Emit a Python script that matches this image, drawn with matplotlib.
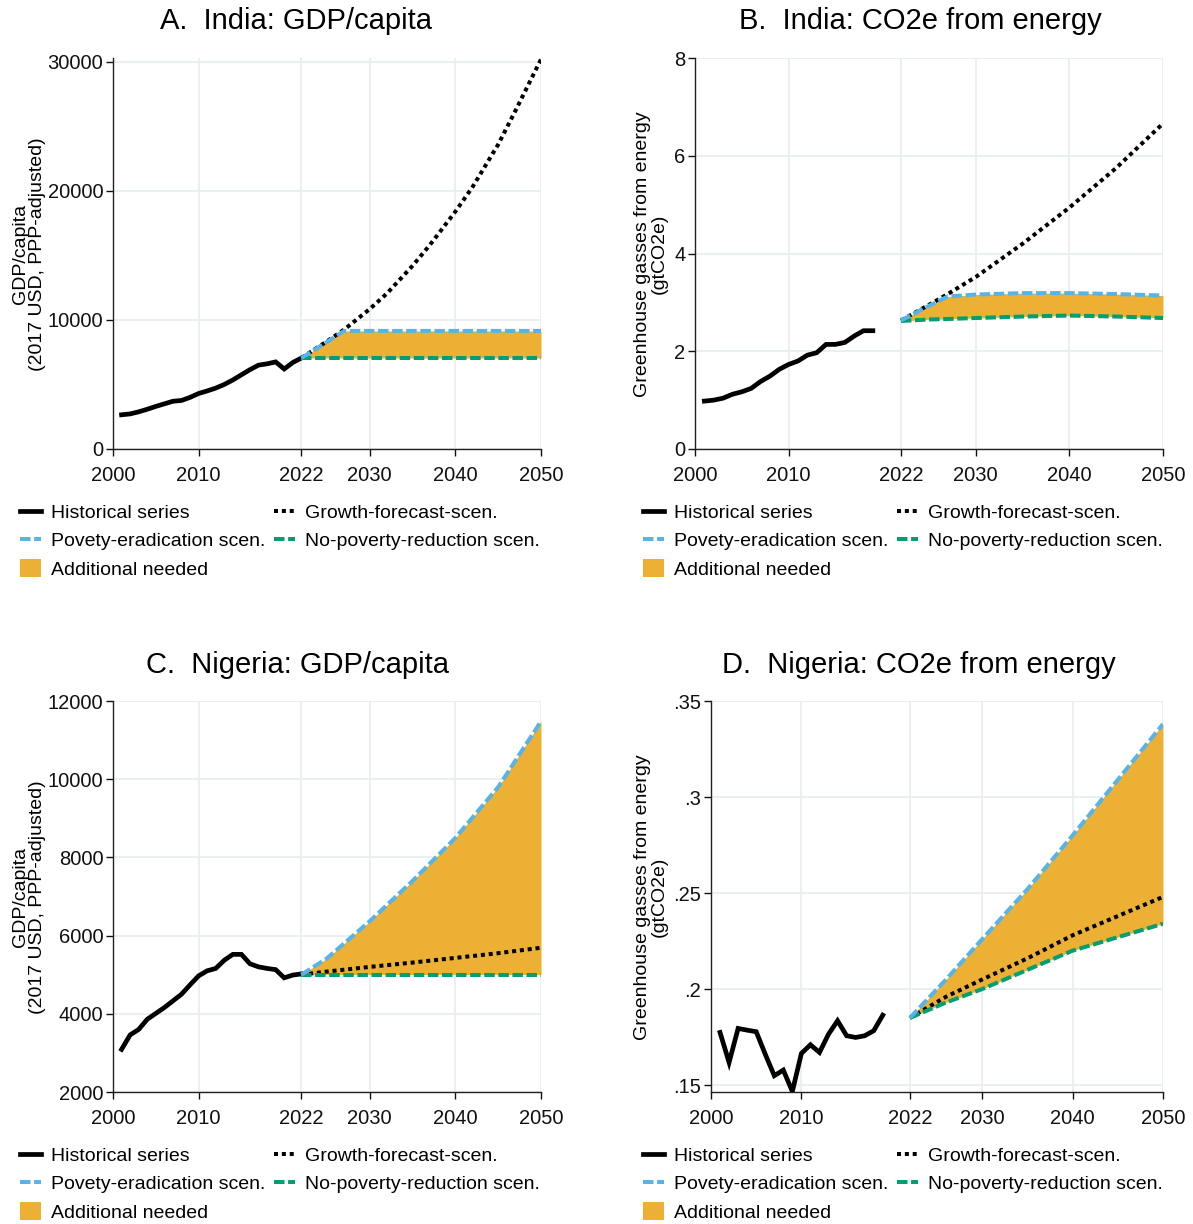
import matplotlib
matplotlib.use("Agg")
import matplotlib.pyplot as plt
from matplotlib.lines import Line2D
from matplotlib.patches import Patch

plt.rcParams['font.family'] = ['Liberation Sans', 'DejaVu Sans']

# colours
hist_col = 'black'
pov_col = '#56B4E9'
nopov_col = '#009E73'
fill_col = '#ECB134'
grid_col = '#E8EFF1'

# ---- India GDP/capita ----
india_hist_years = list(range(2001, 2023))
india_gdp_hist = [2650, 2720, 2880, 3080, 3300, 3500, 3700, 3760, 4000, 4300, 4500,
                  4720, 5000, 5350, 5750, 6150, 6500, 6600, 6750, 6200, 6700, 7050]
india_gdp_years = [2022, 2025, 2027, 2030, 2032, 2035, 2037, 2040, 2042, 2045, 2047, 2050]
india_gdp_pov = [7050, 8300, 9150, 9150, 9150, 9150, 9150, 9150, 9150, 9150, 9150, 9150]
india_gdp_nopov = [7050] * 12
india_gdp_growth = [7050, 8350, 9250, 10850, 12050, 14200, 15800, 18400, 20300, 23600, 26200, 30200]

# ---- India CO2e ----
india_co2_hist_years = list(range(2001, 2020))
india_co2_hist = [0.98, 1.00, 1.04, 1.12, 1.17, 1.24, 1.38, 1.49, 1.63, 1.73,
                  1.80, 1.92, 1.97, 2.14, 2.14, 2.18, 2.31, 2.42, 2.42]
india_co2_years = [2022, 2025, 2027, 2030, 2035, 2040, 2045, 2050]
india_co2_pov = [2.63, 2.93, 3.12, 3.16, 3.19, 3.19, 3.17, 3.14]
india_co2_nopov = [2.62, 2.65, 2.66, 2.68, 2.71, 2.73, 2.71, 2.68]
india_co2_growth = [2.63, 2.95, 3.17, 3.52, 4.20, 4.94, 5.75, 6.66]

# ---- Nigeria GDP/capita ----
nigeria_hist_years = list(range(2001, 2023))
nigeria_gdp_hist = [3090, 3460, 3600, 3860, 4010, 4160, 4330, 4500, 4740, 4970, 5100,
                    5160, 5370, 5520, 5520, 5280, 5200, 5160, 5130, 4920, 4990, 5020]
nigeria_gdp_years = [2022, 2025, 2030, 2035, 2040, 2045, 2050]
nigeria_gdp_pov = [5000, 5420, 6370, 7400, 8500, 9800, 11480]
nigeria_gdp_nopov = [5000] * 7
nigeria_gdp_growth = [5000, 5080, 5200, 5310, 5430, 5550, 5690]

# ---- Nigeria CO2e ----
nigeria_co2_hist_years = list(range(2001, 2020))
nigeria_co2_hist = [0.1774, 0.1618, 0.1795, 0.1786, 0.1778, 0.1661, 0.1549, 0.1578, 0.1467,
                    0.1665, 0.1710, 0.1670, 0.1765, 0.1835, 0.1757, 0.1748, 0.1757, 0.1783, 0.1864]
nigeria_co2_years = [2022, 2026, 2030, 2035, 2040, 2045, 2050]
nigeria_co2_pov = [0.185, 0.205, 0.226, 0.252, 0.280, 0.309, 0.338]
nigeria_co2_nopov = [0.185, 0.193, 0.200, 0.210, 0.220, 0.227, 0.234]
nigeria_co2_growth = [0.185, 0.196, 0.205, 0.216, 0.228, 0.238, 0.248]

x_ticks = [2000, 2010, 2022, 2030, 2040, 2050]

W, H = 1193, 1224
fig = plt.figure(figsize=(W / 100, H / 100), dpi=100)


def fx(px):
    return px / W


def fy(py):
    return 1 - py / H


dash = (2.6, 0.9)
dots = (1, 0.95)


def draw_panel(ax, hx, hy, px, pov, nopov, growth, ylim, yticks, ylabels=None):
    ax.fill_between(px, nopov, pov, color=fill_col, lw=0, zorder=2)
    ax.plot(hx, hy, color=hist_col, lw=3.4, solid_joinstyle='miter', zorder=3)
    ax.plot(px, growth, color='black', lw=2.9, dashes=dots, dash_capstyle='butt', zorder=4)
    ax.plot(px, nopov, color=nopov_col, lw=2.9, dashes=dash, dash_capstyle='butt', zorder=5)
    ax.plot(px, pov, color=pov_col, lw=2.9, dashes=dash, dash_capstyle='butt', zorder=5)
    ax.set_xlim(2000, 2050)
    ax.set_ylim(*ylim)
    ax.set_xticks(x_ticks)
    ax.set_yticks(yticks)
    if ylabels is not None:
        ax.set_yticklabels(ylabels)
    ax.grid(True, color=grid_col, lw=1.3, zorder=0)
    ax.set_axisbelow(True)
    for s in ['top', 'right']:
        ax.spines[s].set_visible(False)
    for s in ['left', 'bottom']:
        ax.spines[s].set_color('#222222')
        ax.spines[s].set_linewidth(1.0)
    ax.tick_params(direction='out', length=5, width=1, labelsize=14.5, colors='#111111')
    ax.tick_params(axis='x', pad=7)
    ax.tick_params(axis='y', pad=2)


def add_legend(ax, x0, ytop):
    handles = [
        Line2D([], [], color=hist_col, lw=3.4),
        Line2D([], [], color=pov_col, lw=2.9, dashes=dash, dash_capstyle='butt'),
        Patch(facecolor=fill_col, edgecolor='none'),
        Line2D([], [], color='black', lw=2.9, dashes=dots, dash_capstyle='butt'),
        Line2D([], [], color=nopov_col, lw=2.9, dashes=dash, dash_capstyle='butt'),
    ]
    labels = ['Historical series', 'Povety-eradication scen.', 'Additional needed',
              'Growth-forecast-scen.', 'No-poverty-reduction scen.']
    ax.legend(handles, labels, ncol=2, loc='upper left',
              bbox_to_anchor=(fx(x0), fy(ytop)), bbox_transform=fig.transFigure,
              frameon=False, fontsize=14, handlelength=1.08, handleheight=1.0,
              handletextpad=0.5, columnspacing=0.46, labelspacing=0.45,
              borderpad=0, borderaxespad=0)


# panel positions in pixels
axA = fig.add_axes([fx(113), fy(449), fx(541 - 113), (449 - 58) / H])
axB = fig.add_axes([fx(695), fy(449), fx(1163 - 695), (449 - 58) / H])
axC = fig.add_axes([fx(113), fy(1092), fx(541 - 113), (1092 - 701) / H])
axD = fig.add_axes([fx(711), fy(1092), fx(1163 - 711), (1092 - 701) / H])

draw_panel(axA, india_hist_years, india_gdp_hist, india_gdp_years, india_gdp_pov,
           india_gdp_nopov, india_gdp_growth, (0, 30300), [0, 10000, 20000, 30000])
draw_panel(axB, india_co2_hist_years, india_co2_hist, india_co2_years, india_co2_pov,
           india_co2_nopov, india_co2_growth, (0, 8), [0, 2, 4, 6, 8])
draw_panel(axC, nigeria_hist_years, nigeria_gdp_hist, nigeria_gdp_years, nigeria_gdp_pov,
           nigeria_gdp_nopov, nigeria_gdp_growth, (2000, 12000),
           [2000, 4000, 6000, 8000, 10000, 12000])
draw_panel(axD, nigeria_co2_hist_years, nigeria_co2_hist, nigeria_co2_years, nigeria_co2_pov,
           nigeria_co2_nopov, nigeria_co2_growth, (0.1464, 0.35),
           [0.15, 0.2, 0.25, 0.3, 0.35], ['.15', '.2', '.25', '.3', '.35'])

# titles
fig.text(fx(296), fy(21), 'A.  India: GDP/capita', ha='center', va='center', fontsize=21)
fig.text(fx(920), fy(21), 'B.  India: CO2e from energy', ha='center', va='center', fontsize=21)
fig.text(fx(297), fy(665), 'C.  Nigeria: GDP/capita', ha='center', va='center', fontsize=21)
fig.text(fx(919), fy(665), 'D.  Nigeria: CO2e from energy', ha='center', va='center', fontsize=21)

# y axis titles
gdp_lab = 'GDP/capita\n(2017 USD, PPP-adjusted)'
co2_lab = 'Greenhouse gasses from energy\n(gtCO2e)'
fig.text(fx(29), fy(254), gdp_lab, rotation=90, ha='center', va='center', fontsize=14, linespacing=0.95)
fig.text(fx(651), fy(254), co2_lab, rotation=90, ha='center', va='center', fontsize=14, linespacing=0.95)
fig.text(fx(29), fy(897), gdp_lab, rotation=90, ha='center', va='center', fontsize=14, linespacing=0.95)
fig.text(fx(651), fy(897), co2_lab, rotation=90, ha='center', va='center', fontsize=14, linespacing=0.95)

# legends under each panel
add_legend(axA, 20, 503)
add_legend(axB, 643, 503)
add_legend(axC, 20, 1146)
add_legend(axD, 643, 1146)

plt.savefig('out.png', dpi=100)
